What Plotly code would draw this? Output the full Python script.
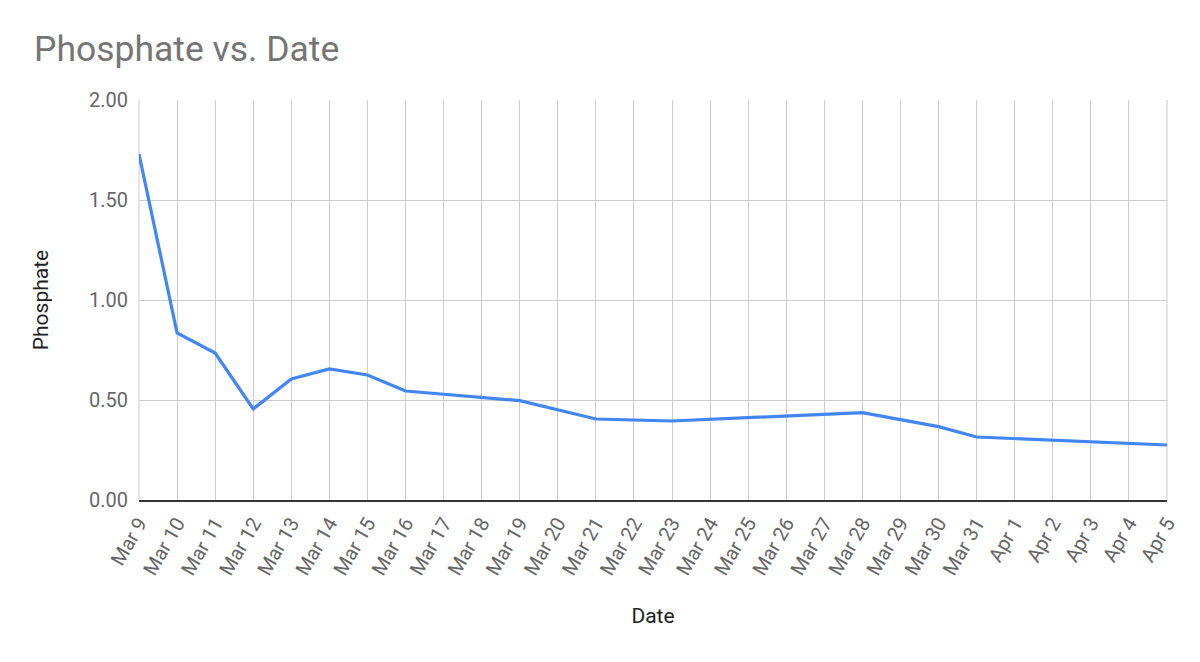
import plotly.graph_objects as go

dates = ["2018-03-09", "2018-03-10", "2018-03-11", "2018-03-12", "2018-03-13",
         "2018-03-14", "2018-03-15", "2018-03-16", "2018-03-19", "2018-03-21",
         "2018-03-23", "2018-03-28", "2018-03-30", "2018-03-31", "2018-04-05"]
phosphate = [1.73, 0.835, 0.735, 0.455, 0.605, 0.655, 0.625, 0.545, 0.497, 0.405,
             0.395, 0.437, 0.367, 0.315, 0.275]

title_text = "Phosphate vs. Date"
x_title = "Date"
y_title = "Phosphate"

fig = go.Figure()
fig.add_trace(go.Scatter(x=dates, y=phosphate, mode="lines",
                         line=dict(color="#4285F4", width=3.2), showlegend=False))

fig.update_layout(
    width=1200, height=662,
    paper_bgcolor="white", plot_bgcolor="white",
    margin=dict(l=139, r=33, t=100, b=162),
    font=dict(family="Roboto", color="#222222"),
    title=dict(text=title_text, x=34/1200, xanchor="left", y=1-49/662, yanchor="middle",
               font=dict(family="Roboto", size=35.5, color="#757575")),
)
fig.update_xaxes(
    type="date", range=["2018-03-09", "2018-04-05"],
    dtick=86400000, tick0="2018-03-09", tickformat="%b %-d", tickangle=-60,
    showgrid=True, gridcolor="#cccccc", gridwidth=1,
    showline=True, linecolor="#333333", linewidth=1.5,
    ticks="", ticklabelstandoff=2, tickfont=dict(family="Roboto", size=20, color="#666666"),
    title=dict(text=x_title, font=dict(family="Roboto", size=21, color="#222222"), standoff=30),
)
fig.update_yaxes(
    range=[0, 2], dtick=0.5, tickformat=".2f",
    showgrid=True, gridcolor="#cccccc", gridwidth=1, zeroline=False,
    ticks="", ticklabelstandoff=10, tickfont=dict(family="Roboto", size=20, color="#666666"),
    title=dict(text=y_title, font=dict(family="Roboto", size=21, color="#222222"), standoff=34),
)
fig.add_shape(type="line", xref="paper", yref="paper", x0=0, x1=0, y0=0, y1=1,
              line=dict(color="#cccccc", width=1), layer="below")
fig.add_shape(type="line", xref="paper", yref="paper", x0=1, x1=1, y0=0, y1=1,
              line=dict(color="#cccccc", width=1), layer="below")

fig.write_html("out.html")
